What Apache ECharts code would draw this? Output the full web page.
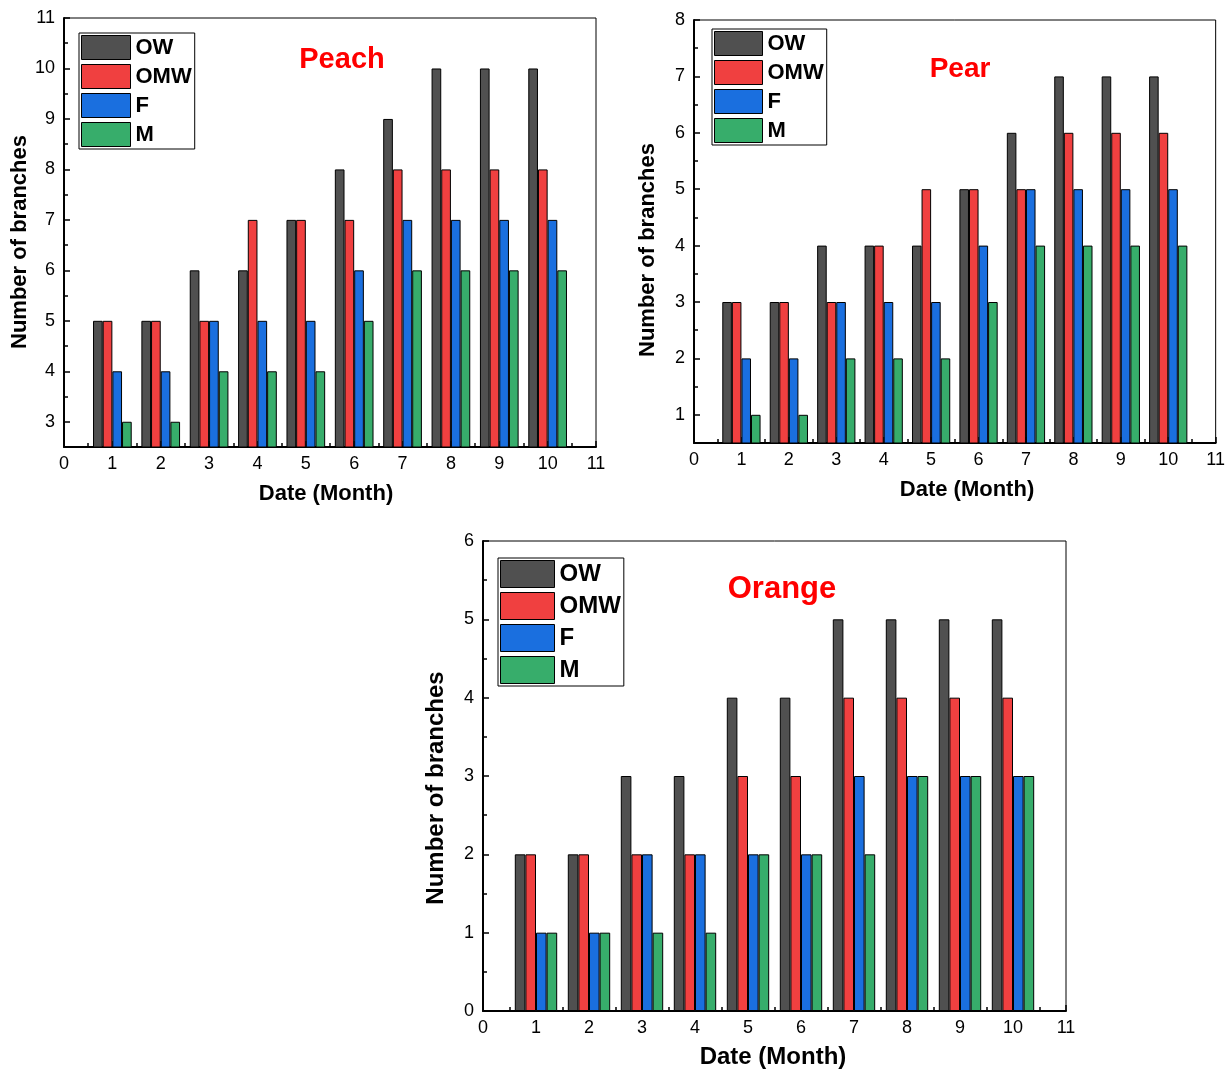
<!DOCTYPE html>
<html><head><meta charset="utf-8">
<script src="https://cdn.jsdelivr.net/npm/echarts@6/dist/echarts.min.js"></script>
<style>html,body{margin:0;padding:0;background:#fff}#c{width:1228px;height:1071px}</style>
</head><body><div id="c"></div>
<script>
const months = [1,2,3,4,5,6,7,8,9,10];
const seriesNames = ['OW','OMW','F','M'];
const colors = ['#505050','#f04040','#1a6fdf','#37ad6b'];

const peachOW  = [5,5,6,6,7,8,9,10,10,10];
const peachOMW = [5,5,5,7,7,7,8,8,8,8];
const peachF   = [4,4,5,5,5,6,7,7,7,7];
const peachM   = [3,3,4,4,4,5,6,6,6,6];

const pearOW  = [3,3,4,4,4,5,6,7,7,7];
const pearOMW = [3,3,3,4,5,5,5,6,6,6];
const pearF   = [2,2,3,3,3,4,5,5,5,5];
const pearM   = [1,1,2,2,2,3,4,4,4,4];

const orangeOW  = [2,2,3,3,4,4,5,5,5,5];
const orangeOMW = [2,2,2,2,3,3,4,4,4,4];
const orangeF   = [1,1,2,2,2,2,3,3,3,3];
const orangeM   = [1,1,1,1,2,2,2,3,3,3];

const xTicks = [0,1,2,3,4,5,6,7,8,9,10,11];
const peachYTicks = [3,4,5,6,7,8,9,10,11];
const pearYTicks = [1,2,3,4,5,6,7,8];
const orangeYTicks = [0,1,2,3,4,5,6];

const xName = 'Date (Month)';
const yName = 'Number of branches';

const font = 'Liberation Sans, Arial, sans-serif';

const panels = [
  {title:'Peach', data:[peachOW,peachOMW,peachF,peachM], yMin:2.5, yMax:11, yTicks:peachYTicks,
   grid:{left:64, top:18, width:532, height:429},
   titlePos:[342,60], titleSize:29,
   legend:{left:79, top:33, w:49, h:24, gap:4, fs:22, pad:[2,3,2,2]},
   xNamePos:[326,494], yNamePos:[20,242], nameSize:22, labelSize:18},
  {title:'Pear', data:[pearOW,pearOMW,pearF,pearM], yMin:0.5, yMax:8, yTicks:pearYTicks,
   grid:{left:694, top:20, width:526, height:423},
   titlePos:[960,69], titleSize:28,
   legend:{left:712, top:29, w:48, h:24, gap:4, fs:22, pad:[2,3,2,2]},
   xNamePos:[967,490], yNamePos:[648,250], nameSize:22, labelSize:18},
  {title:'Orange', data:[orangeOW,orangeOMW,orangeF,orangeM], yMin:0, yMax:6, yTicks:orangeYTicks,
   grid:{left:483, top:541, width:583, height:470},
   titlePos:[782,589], titleSize:31,
   legend:{left:498, top:558, w:54, h:27, gap:4, fs:24, pad:[2,3,2,2]},
   xNamePos:[773,1057], yNamePos:[436,788], nameSize:24, labelSize:18}
];

const halves = (arr) => arr.slice(0,-1).map(v => v + 0.5);

const option = {animation:false, grid:[], xAxis:[], yAxis:[], series:[], legend:[], graphic:[]};

panels.forEach((p, pi) => {
  option.grid.push(Object.assign({show:true, borderColor:'#000', borderWidth:1, containLabel:false}, p.grid));
  const axisLine = {show:true, onZero:false, lineStyle:{color:'#000', width:2}};
  option.xAxis.push({type:'value', gridIndex:pi, min:0, max:11, interval:1, position:'bottom',
    axisLine, splitLine:{show:false},
    axisTick:{show:true, inside:true, length:6, lineStyle:{color:'#000', width:1.5}, customValues:xTicks},
    axisLabel:{show:true, customValues:xTicks, color:'#000', fontSize:p.labelSize, fontFamily:font, margin:8}});
  option.xAxis.push({type:'value', gridIndex:pi, min:0, max:11, position:'bottom',
    axisLine:{show:false}, splitLine:{show:false}, axisLabel:{show:false},
    axisTick:{show:true, inside:true, length:4, lineStyle:{color:'#000', width:1.5}, customValues:halves(xTicks)}});
  option.yAxis.push({type:'value', gridIndex:pi, min:p.yMin, max:p.yMax, position:'left',
    axisLine, splitLine:{show:false},
    axisTick:{show:true, inside:true, length:6, lineStyle:{color:'#000', width:1.5}, customValues:p.yTicks},
    axisLabel:{show:true, customValues:p.yTicks, color:'#000', fontSize:p.labelSize, fontFamily:font, margin:9}});
  const yMinor = halves(p.yTicks).filter(v => v > p.yMin);
  option.yAxis.push({type:'value', gridIndex:pi, min:p.yMin, max:p.yMax, position:'left',
    axisLine:{show:false}, splitLine:{show:false}, axisLabel:{show:false},
    axisTick:{show:true, inside:true, length:4, lineStyle:{color:'#000', width:1.5}, customValues:yMinor}});

  const bw = p.grid.width / 11 * 0.2;
  seriesNames.forEach((n, si) => {
    option.series.push({type:'bar', name:n, xAxisIndex:pi*2, yAxisIndex:pi*2,
      barWidth:bw, barGap:'0%', clip:true,
      itemStyle:{color:colors[si], borderColor:'#000', borderWidth:1},
      data: months.map((m, i) => [m, p.data[si][i]])});
  });

  const L = p.legend;
  option.legend.push({show:true, orient:'vertical', left:L.left, top:L.top, data:seriesNames,
    icon:'rect', itemWidth:L.w, itemHeight:L.h, itemGap:L.gap, padding:L.pad,
    borderColor:'#000', borderWidth:1, selectedMode:false,
    itemStyle:{borderColor:'#000', borderWidth:1},
    textStyle:{color:'#000', fontWeight:'bold', fontSize:L.fs, fontFamily:font}});

  option.graphic.push({type:'text', x:p.titlePos[0], y:p.titlePos[1],
    style:{text:p.title, fill:'#ff0000', font:'bold '+p.titleSize+'px '+font, textAlign:'center', textVerticalAlign:'middle'}});
  option.graphic.push({type:'text', x:p.xNamePos[0], y:p.xNamePos[1],
    style:{text:xName, fill:'#000', font:'bold '+p.nameSize+'px '+font, textAlign:'center', textVerticalAlign:'middle'}});
  option.graphic.push({type:'text', x:p.yNamePos[0], y:p.yNamePos[1], rotation:Math.PI/2,
    style:{text:yName, fill:'#000', font:'bold '+p.nameSize+'px '+font, textAlign:'center', textVerticalAlign:'middle'}});
});

const chart = echarts.init(document.getElementById('c'), null, {renderer:'canvas'});
chart.setOption(option);
</script></body></html>
